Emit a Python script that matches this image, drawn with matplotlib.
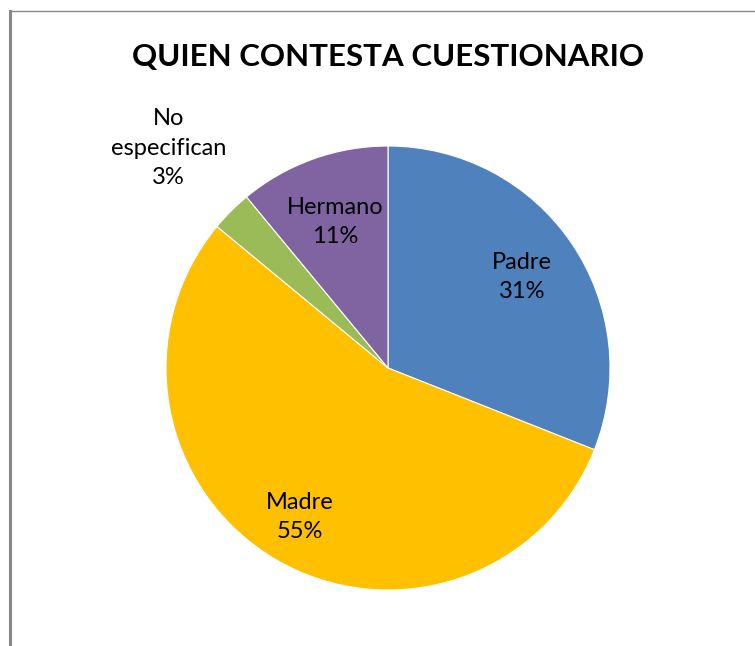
import numpy as np
import matplotlib
matplotlib.use('Agg')
import matplotlib.pyplot as plt
from matplotlib.lines import Line2D

# data
categories = ['Padre', 'Madre', 'No\nespecifican', 'Hermano']
percentages = [31, 55, 3, 11]
colors = ['#4F81BD', '#FFC000', '#9BBB59', '#8064A2']
label_radius = [0.73, 0.78, 1.40, 0.70]

plt.rcParams['font.family'] = ['Lato', 'DejaVu Sans']

W, H = 755, 646
fig = plt.figure(figsize=(W / 100, H / 100), dpi=100)

# pie centre and radius in pixels
cx, cy, R = 388, 646 - 368, 222
lim = 1.5
ax = fig.add_axes([(cx - lim * R) / W, (cy - lim * R) / H, 2 * lim * R / W, 2 * lim * R / H])

wedges, _ = ax.pie(percentages, colors=colors, startangle=90, counterclock=False,
                   radius=1, wedgeprops=dict(edgecolor='white', linewidth=0.8))
ax.set_xlim(-lim, lim)
ax.set_ylim(-lim, lim)
ax.set_aspect('equal')
ax.axis('off')

for w, name, pct, r in zip(wedges, categories, percentages, label_radius):
    ang = np.deg2rad((w.theta1 + w.theta2) / 2)
    ax.text(r * np.cos(ang), r * np.sin(ang), f'{name}\n{pct}%',
            ha='center', va='center', fontsize=17, linespacing=1.5, color='black')

fig.text(388 / W, 1 - 57 / H, 'QUIEN CONTESTA CUESTIONARIO', ha='center', va='center',
         fontsize=22.5, fontweight='bold')

# chart area border (only left and top visible)
fig.add_artist(Line2D([9.5 / W, 9.5 / W], [0, 1 - 11 / H], color='#888888', linewidth=2.2))
fig.add_artist(Line2D([9.5 / W, 1], [1 - 11 / H, 1 - 11 / H], color='#888888', linewidth=1.0))

fig.savefig('out.png', dpi=100)
